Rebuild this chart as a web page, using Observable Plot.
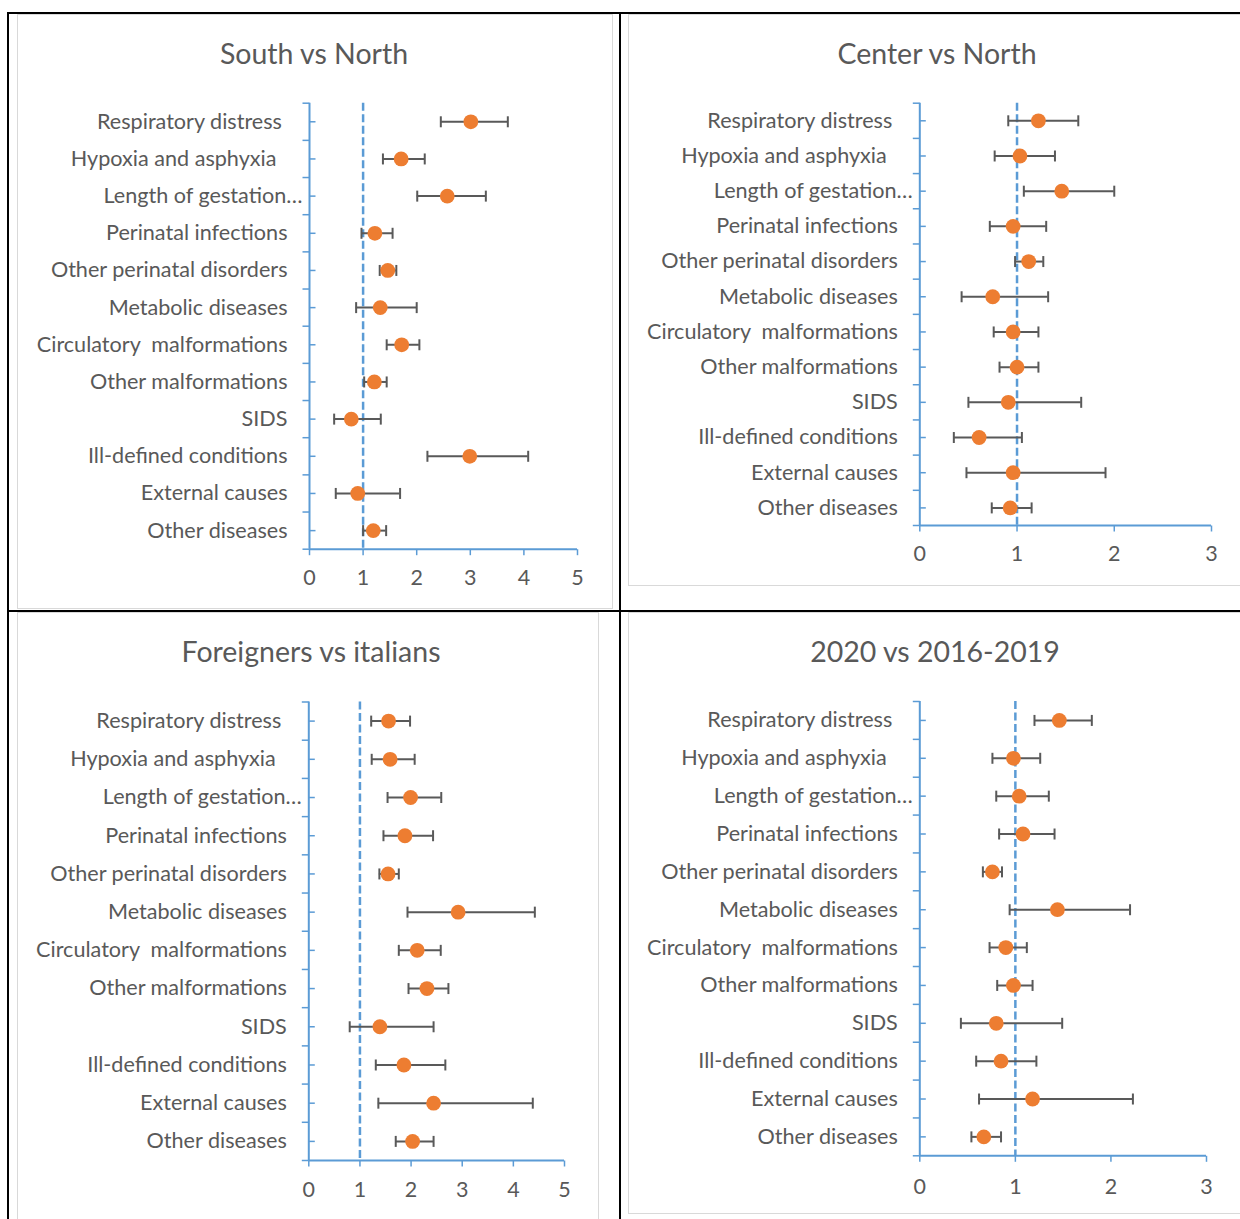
<!DOCTYPE html>
<html>
<head>
<meta charset="utf-8">
<script src="https://cdn.jsdelivr.net/npm/d3@7"></script>
<script src="https://cdn.jsdelivr.net/npm/@observablehq/plot@0.6"></script>
<style>
  html, body { margin: 0; padding: 0; background: #fff; }
  body { width: 1240px; height: 1219px; position: relative; overflow: hidden; font-family: Lato, "Open Sans", sans-serif; }
  .bline { position: absolute; background: #000; }
  .box { position: absolute; border: 1.5px solid #d9d9d9; box-sizing: border-box; }
  .title { position: absolute; color: #595959; font-size: 28.5px; text-align: center; height: 36px; line-height: 36px; white-space: nowrap; }
  .plot { position: absolute; }
</style>
</head>
<body>
<script>
// ---------- data ----------
const categories = [
  "Respiratory distress\u00a0",
  "Hypoxia and asphyxia\u00a0\u00a0",
  "Length of gestation…",
  "Perinatal infections",
  "Other perinatal disorders",
  "Metabolic diseases",
  "Circulatory \u00a0malformations",
  "Other malformations",
  "SIDS",
  "Ill-defined conditions",
  "External causes",
  "Other diseases"
];

const titles = ["South vs North", "Center vs North", "Foreigners vs italians", "2020 vs 2016-2019"];

const southEst = [3.01, 1.71, 2.57, 1.22, 1.46, 1.32, 1.72, 1.21, 0.78, 2.99, 0.90, 1.19];
const southLo  = [2.45, 1.37, 2.01, 0.97, 1.31, 0.87, 1.44, 1.02, 0.46, 2.20, 0.49, 1.00];
const southHi  = [3.70, 2.15, 3.29, 1.55, 1.62, 2.00, 2.05, 1.44, 1.33, 4.08, 1.69, 1.43];

const centerEst = [1.22, 1.03, 1.46, 0.96, 1.12, 0.75, 0.96, 1.00, 0.91, 0.61, 0.96, 0.93];
const centerLo  = [0.91, 0.77, 1.07, 0.72, 0.98, 0.43, 0.76, 0.82, 0.50, 0.35, 0.48, 0.74];
const centerHi  = [1.63, 1.39, 2.00, 1.30, 1.27, 1.32, 1.22, 1.22, 1.66, 1.05, 1.91, 1.15];

const foreignEst = [1.56, 1.59, 1.99, 1.88, 1.55, 2.92, 2.12, 2.31, 1.39, 1.86, 2.44, 2.03];
const foreignLo  = [1.22, 1.23, 1.54, 1.46, 1.38, 1.93, 1.76, 1.95, 0.80, 1.31, 1.36, 1.70];
const foreignHi  = [1.98, 2.07, 2.59, 2.43, 1.76, 4.42, 2.58, 2.73, 2.44, 2.67, 4.38, 2.44];

const yearEst = [1.46, 0.98, 1.04, 1.08, 0.76, 1.44, 0.90, 0.98, 0.80, 0.85, 1.18, 0.67];
const yearLo  = [1.20, 0.76, 0.80, 0.83, 0.66, 0.94, 0.73, 0.81, 0.43, 0.59, 0.62, 0.54];
const yearHi  = [1.80, 1.26, 1.35, 1.41, 0.86, 2.20, 1.12, 1.18, 1.49, 1.22, 2.23, 0.85];

const ticksFive = [0, 1, 2, 3, 4, 5];
const ticksThree = [0, 1, 2, 3];
const referenceValue = [1];

// ---------- style ----------
const BLUE = "#5B9BD5";
const ORANGE = "#ED7D31";
const GRAY = "#595959";
const BAR = "#595959";

function addDiv(cls, css, text) {
  const d = document.createElement("div");
  d.className = cls;
  Object.assign(d.style, css);
  if (text != null) d.textContent = text;
  document.body.appendChild(d);
  return d;
}

// chart-area boxes (light gray)
addDiv("box", {left: "17px", top: "14px", width: "596px", height: "595px"});
addDiv("box", {left: "628px", top: "14px", width: "620px", height: "572px"});
addDiv("box", {left: "17px", top: "612px", width: "582px", height: "620px"});
addDiv("box", {left: "628px", top: "612px", width: "620px", height: "602px"});

// table lines (black)
addDiv("bline", {left: "8px", top: "12px", width: "1232px", height: "2px"});
addDiv("bline", {left: "7px", top: "12px", width: "2px", height: "1207px"});
addDiv("bline", {left: "619px", top: "12px", width: "2px", height: "1207px"});
addDiv("bline", {left: "8px", top: "610px", width: "1232px", height: "2px"});

// symbols
const capSym = {draw(ctx) { ctx.moveTo(0, -5.5); ctx.lineTo(0, 5.5); }};
const outTickSym = {draw(ctx) { ctx.moveTo(-7, 0); ctx.lineTo(0, 0); }};
const inTickSym = {draw(ctx) { ctx.moveTo(0, 0); ctx.lineTo(6, 0); }};
const downTickSym = {draw(ctx) { ctx.moveTo(0, 0); ctx.lineTo(0, 6); }};

function panel(cfg) {
  const n = categories.length;
  const rows = categories.map((c, i) => ({cat: c, y: i + 0.5, est: cfg.est[i], lo: cfg.lo[i], hi: cfg.hi[i]}));
  const bounds = d3.range(n + 1);
  const plain = rows.filter(r => !r.cat.endsWith("…"));
  const trunc = rows.filter(r => r.cat.endsWith("…"));
  const xmax = cfg.ticks[cfg.ticks.length - 1];
  const chart = Plot.plot({
    width: cfg.width,
    height: cfg.height,
    marginLeft: cfg.ml,
    marginRight: cfg.mr,
    marginTop: cfg.mt,
    marginBottom: cfg.mb,
    x: {domain: [0, xmax], axis: null},
    y: {domain: [0, n], reverse: true, axis: null},
    style: {background: "transparent", overflow: "visible", fontFamily: "Lato, 'Open Sans', sans-serif"},
    marks: [
      Plot.ruleY([n], {stroke: BLUE, strokeWidth: 2}),
      Plot.ruleX([0], {stroke: BLUE, strokeWidth: 2}),
      Plot.dot(bounds, {x: 0, y: d => d, symbol: outTickSym, stroke: BLUE, strokeWidth: 1.5, fill: "none"}),
      Plot.dot(rows, {x: 0, y: "y", symbol: inTickSym, stroke: BLUE, strokeWidth: 1.5, fill: "none"}),
      Plot.dot(cfg.ticks, {x: d => d, y: n, symbol: downTickSym, stroke: BLUE, strokeWidth: 1.5, fill: "none"}),
      Plot.text(cfg.ticks, {x: d => d, y: n, dy: cfg.labelDy, text: d => String(d), fontSize: 21.5, fill: GRAY}),
      Plot.text(plain, {x: 0, y: "y", text: "cat", textAnchor: "end", dx: -22, fontSize: 21.6, fill: GRAY}),
      Plot.text(trunc, {x: 0, y: "y", text: "cat", textAnchor: "end", dx: -7, fontSize: 21.6, fill: GRAY}),
      Plot.ruleX(referenceValue, {x: d => d, stroke: BLUE, strokeWidth: 2.5, strokeDasharray: "8,3.5"}),
      Plot.ruleY(rows, {y: "y", x1: "lo", x2: "hi", stroke: BAR, strokeWidth: 2}),
      Plot.dot(rows, {x: "lo", y: "y", symbol: capSym, stroke: BAR, strokeWidth: 2, fill: "none"}),
      Plot.dot(rows, {x: "hi", y: "y", symbol: capSym, stroke: BAR, strokeWidth: 2, fill: "none"}),
      Plot.dot(rows, {x: "est", y: "y", r: 7.4, fill: ORANGE, stroke: "none"})
    ]
  });
  chart.classList.add("plot");
  chart.style.position = "absolute";
  chart.style.left = cfg.left + "px";
  chart.style.top = cfg.top + "px";
  document.body.appendChild(chart);
  addDiv("title", {left: (cfg.titleX - 220) + "px", width: "440px", top: (cfg.titleY - 18) + "px"}, cfg.title);
}

panel({title: titles[0], titleX: 314, titleY: 53, est: southEst, lo: southLo, hi: southHi, ticks: ticksFive,
  left: 19, top: 90, width: 592, height: 510, ml: 290, mr: 34, mt: 12.7, mb: 51.3, labelDy: 29});
panel({title: titles[1], titleX: 937, titleY: 53, est: centerEst, lo: centerLo, hi: centerHi, ticks: ticksThree,
  left: 629, top: 90, width: 610, height: 480, ml: 290.3, mr: 28, mt: 12.7, mb: 45, labelDy: 29});
panel({title: titles[2], titleX: 311, titleY: 651, est: foreignEst, lo: foreignLo, hi: foreignHi, ticks: ticksFive,
  left: 19, top: 690, width: 578, height: 525, ml: 289.3, mr: 33, mt: 11.5, mb: 55, labelDy: 30});
panel({title: titles[3], titleX: 935, titleY: 651, est: yearEst, lo: yearLo, hi: yearHi, ticks: ticksThree,
  left: 629, top: 690, width: 610, height: 520, ml: 290.3, mr: 33, mt: 11, mb: 54.7, labelDy: 31});
</script>
</body>
</html>
